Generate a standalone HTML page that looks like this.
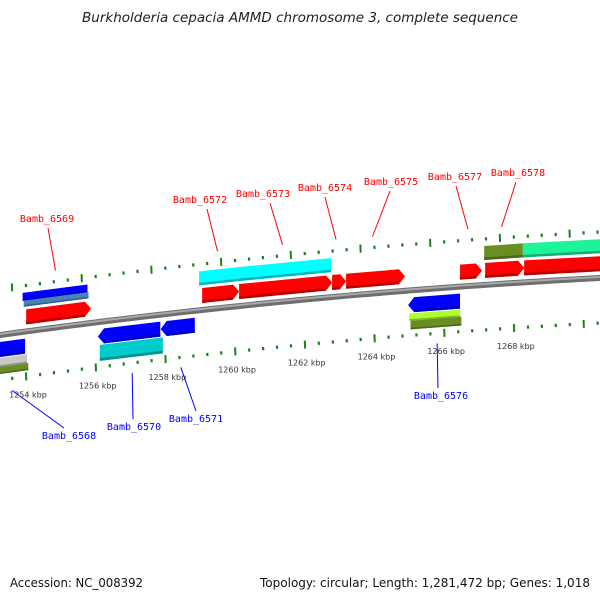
<!DOCTYPE html>
<html><head><meta charset="utf-8"><style>
html,body{margin:0;padding:0;background:#fff}
svg{display:block}
</style></head><body>
<svg id="map" width="600" height="600" viewBox="0 0 600 600" xmlns="http://www.w3.org/2000/svg">
<text x="300" y="22" text-anchor="middle" font-family="DejaVu Sans, sans-serif" font-style="italic" font-size="13" fill="#222" textLength="436" lengthAdjust="spacingAndGlyphs">Burkholderia cepacia AMMD chromosome 3, complete sequence</text>
<g id="rings"></g>
<g id="feats"></g>
<g id="labels"></g>
<text x="10" y="587" font-family="DejaVu Sans, sans-serif" font-size="12" fill="#111" textLength="133" lengthAdjust="spacingAndGlyphs">Accession: NC_008392</text>
<text x="260" y="587" font-family="DejaVu Sans, sans-serif" font-size="12" fill="#111" textLength="330" lengthAdjust="spacingAndGlyphs">Topology: circular; Length: 1,281,472 bp; Genes: 1,018</text>
</svg>
<script>
// ---- data ----
const featStart  = [1254.27,1259.32,1260.38,1263.05,1263.45,1266.72,1267.44,1268.56, 1254.26,1259.31,1260.40,1267.49,1268.60, 1252.80,1256.20,1258.00,1265.10, 1252.80,1256.18,1265.08];
const featEnd    = [1256.13,1260.38,1263.05,1263.45,1265.14,1267.35,1268.56,1272.00, 1256.12,1260.40,1263.10,1268.60,1272.00, 1254.11,1257.99,1258.98,1266.59, 1254.11,1257.99,1266.54];
const featStrand = [1,1,1,1,1,1,1,1, 0,0,0,0,0, -1,-1,-1,-1, 0,0,0];
const featTrack  = [0,0,0,0,0,0,0,0, 1,1,1,1,1, 2,2,2,2, 3,3,3];
const featType   = ["cds","cds","cds","cds","cds","cds","cds","cds", "blueSteel","cyan","cyan","olive","spring", "bcds","bcds","bcds","bcds", "grayOlive","dcyan","limeOlive"];
const tickLabels = [1254,1256,1258,1260,1262,1264,1266,1268];
const labelNames = ["Bamb_6569","Bamb_6572","Bamb_6573","Bamb_6574","Bamb_6575","Bamb_6577","Bamb_6578","Bamb_6568","Bamb_6570","Bamb_6571","Bamb_6576"];
const labelFeat  = [0,1,2,3,4,5,6,13,14,15,16];

// ---- geometry ----
function quad(p){return x=>{let s=0;for(let i=0;i<3;i++){let t=p[i][1];for(let j=0;j<3;j++)if(j!==i)t*=(x-p[j][0])/(p[i][0]-p[j][0]);s+=t;}return s;};}
const B = quad([[0,335],[300,300],[600,278]]);
const xk = (k,d)=>19+(k-1254)*34.85+0.155*d;
const NS="http://www.w3.org/2000/svg";
function mk(tag,attrs,parent){const e=document.createElementNS(NS,tag);for(const a in attrs)e.setAttribute(a,attrs[a]);parent.appendChild(e);return e;}
const rings=document.getElementById('rings'), feats=document.getElementById('feats'), labels=document.getElementById('labels');

function curve(d){let s="";for(let x=-10;x<=610;x+=10){s+=(x===-10?"M":"L")+x+","+(B(x)+d).toFixed(2);}return s;}
const bb1=mk('path',{d:curve(0),stroke:'#6e6e6e','stroke-width':6,fill:'none'},rings);


const bb2=mk('path',{d:curve(-1),stroke:'#a8a8a8','stroke-width':2,fill:'none'},rings);



[[-46,'top'],[45,'bottom']].forEach(([d,nm])=>{
  for(let k=1250;k<=1273;k=Math.round((k+0.4)*10)/10){
    const x=xk(k,d); if(x<-5||x>605)continue;
    const major=Math.abs(k/2-Math.round(k/2))<1e-6;
    const h=major?4:1.6;
    const y=B(x)+d;
    const t=mk('line',{x1:x,y1:y-h,x2:x+0.3,y2:y+h,stroke:'#1f7f1f','stroke-width':major?2:2.2},rings);
    
    
  }
});
tickLabels.forEach(k=>{
  const x=xk(k,45)+2, y=B(x-2)+45+21;
  const t=mk('text',{x:x,y:y,'text-anchor':'middle','font-family':'DejaVu Sans, sans-serif','font-size':'8',fill:'#333'},rings);
  t.textContent=k+' kbp';
  
  
});

const trackD=[[-22,-7],[-39,-25],[7,22],[23,39]];
const pal={cds:[['#ff0000',1]],bcds:[['#0000ff',1]],cyan:[['#00ffff',1]],dcyan:[['#00cccc',1]],olive:[['#6b8e23',1]],spring:[['#1ef29a',1]],
  blueSteel:[['#0000ff',0.57],['#4682b4',0.43]],grayOlive:[['#c8c8c8',0.55],['#6b8e23',0.45]],limeOlive:[['#adff2f',0.45],['#6b8e23',0.55]]};
function shade(c,f){const n=parseInt(c.slice(1),16);let r=n>>16,g=(n>>8)&255,b=n&255;r=Math.round(r*f);g=Math.round(g*f);b=Math.round(b*f);return 'rgb('+r+','+g+','+b+')';}
function band(s,e,d0,d1,strand,color,i,part){
  const dm=(d0+d1)/2;
  const xs=xk(s,dm), xe=xk(e,dm), ah=Math.min(6,(xe-xs)*0.5);
  const pts=[];
  const A=(x,d)=>pts.push(x.toFixed(2)+','+(B(x)+d).toFixed(2));
  if(strand===-1){A(xs,dm);A(xs+ah,d0);}else A(xs,d0);
  if(strand===1){A(xe-ah,d0);A(xe,dm);A(xe-ah,d1);}else{A(xe,d0);A(xe,d1);}
  if(strand===-1)A(xs+ah,d1);else A(xs,d1);
  const p=mk('polygon',{points:pts.join(' '),fill:color},feats);
  
  
  const h=d1-d0;
  const lo=d1-Math.max(1.5,h*0.18);
  const sp=[];const S=(x,d)=>sp.push(x.toFixed(2)+','+(B(x)+d).toFixed(2));
  const x0=strand===-1?xs+ah:xs, x1=strand===1?xe-ah:xe;
  S(x0,lo);S(x1,lo);S(x1,d1);S(x0,d1);
  const q=mk('polygon',{points:sp.join(' '),fill:shade(color,0.72)},feats);
  
  
}
for(let i=0;i<featStart.length;i++){
  const [d0,d1]=trackD[featTrack[i]];
  const parts=pal[featType[i]];
  let cur=d0;
  parts.forEach((pp,j)=>{const nd=cur+(d1-d0)*pp[1];band(featStart[i],featEnd[i],cur,nd,featStrand[i],pp[0],i,parts.length>1?j:null);cur=nd;});
}

const lblCx=[47,200,263,325,391,455,518,69,134,196,441];
const lblBy=[222,203,197,191,185,180,176,439,430,422,399];
const lblLx=[48,207,270,325,390,456,516,64,133,196,438];
labelNames.forEach((n,i)=>{
  const f=labelFeat[i], top=featTrack[f]<2;
  const mid=(featStart[f]+featEnd[f])/2;
  const col=top?'#ff0000':'#0000ff';
  let ex,ey,sx,sy;
  if(top){ex=xk(mid,-15)-3;ey=B(ex)-57;sx=lblLx[i];sy=lblBy[i]+6;}
  else{ex=xk(mid,15)+3;ey=B(ex)+55;sx=lblLx[i];sy=lblBy[i]-11;}
  if(n==='Bamb_6568'){ex=12;ey=B(12)+57;}
  const l=mk('line',{x1:sx,y1:sy,x2:ex,y2:ey,stroke:col,'stroke-width':1},labels);
  
  
  const t=mk('text',{x:lblCx[i],y:lblBy[i],'text-anchor':'middle','font-family':'DejaVu Sans Mono, Liberation Mono, monospace','font-size':'10',fill:col},labels);
  t.textContent=n;
  
  
});
</script>
</body></html>
